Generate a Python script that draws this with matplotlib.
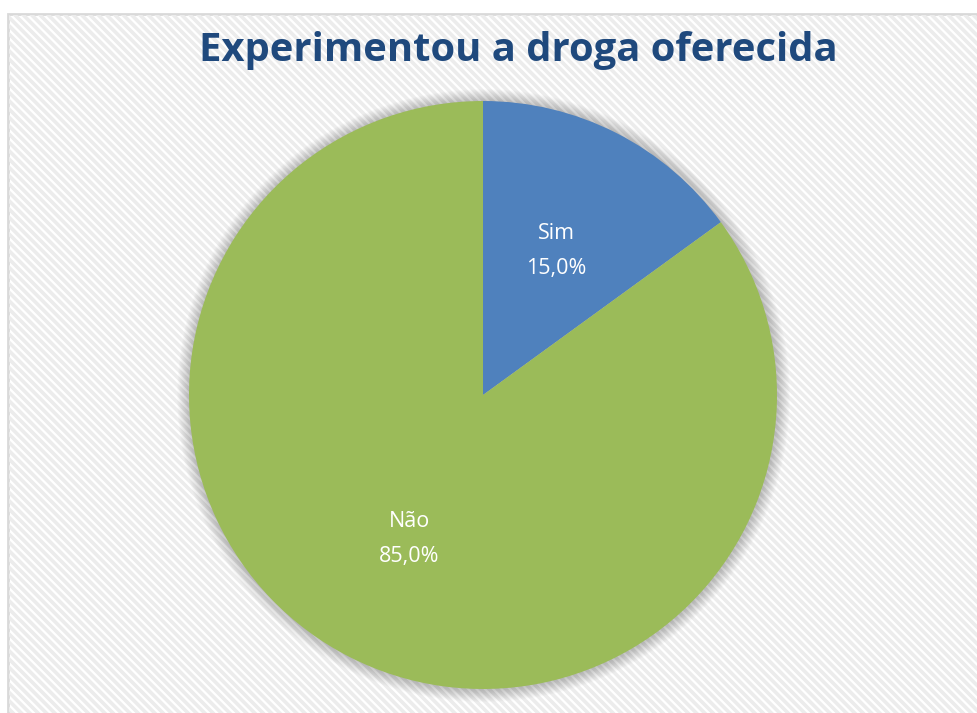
import matplotlib

matplotlib.use("Agg")
import matplotlib.pyplot as plt
from matplotlib.patches import Rectangle, Circle

categories = ["Sim", "Não"]
values = [15.0, 85.0]
colors = ["#4F81BD", "#9BBB59"]
title = "Experimentou a droga oferecida"

W, H = 977, 713
fig = plt.figure(figsize=(W / 100, H / 100), dpi=100)
fig.patch.set_facecolor("white")

# chart frame with diagonal stripe background
plt.rcParams["hatch.linewidth"] = 2.6
bg = fig.add_axes([0, 0, 1, 1], zorder=0)
bg.set_xlim(0, W)
bg.set_ylim(H, 0)
bg.axis("off")
bg.add_patch(Rectangle((8, 14), 1200, 1000, facecolor="white", edgecolor="#d9d9d9", linewidth=2.0))
bg.add_patch(Rectangle((9, 15), 1200, 1000, facecolor="none", edgecolor="#ececec",
                       linewidth=0, hatch="\\\\\\\\"))

# pie axes: center (483, 395), radius ~294 px
cx, cy, r = 483, 395, 294
ax = fig.add_axes([(cx - r) / W, (H - cy - r) / H, 2 * r / W, 2 * r / H], zorder=2)

# soft glow shadow around the pie
for i in range(14):
    ax.add_patch(Circle((0.002, -0.002), 1.0 + 0.003 * (i + 1), facecolor="black",
                        edgecolor="none", alpha=0.014, zorder=0, clip_on=False))

labels = [f"{c}\n{v:.1f}%".replace(".", ",") for c, v in zip(categories, values)]
wedges, texts = ax.pie(values, colors=colors, startangle=90, counterclock=False,
                       radius=1.0, labels=labels, labeldistance=0.55,
                       wedgeprops=dict(linewidth=0), frame=True)
ax.set_xlim(-1, 1)
ax.set_ylim(-1, 1)
ax.set_aspect("equal")
ax.axis("off")
for w in wedges:
    w.set_clip_on(False)
for t in texts:
    t.set_ha("center")
    t.set_va("center")
    t.set_color("white")
    t.set_fontsize(15.5)
    t.set_linespacing(1.85)
    t.set_family("Open Sans")

fig.text(518 / W, 1 - 50 / H, title, ha="center", va="center", fontsize=28.8,
         fontweight="bold", color="#1F497D", family="Open Sans", zorder=3)

fig.savefig("out.png", dpi=100)
